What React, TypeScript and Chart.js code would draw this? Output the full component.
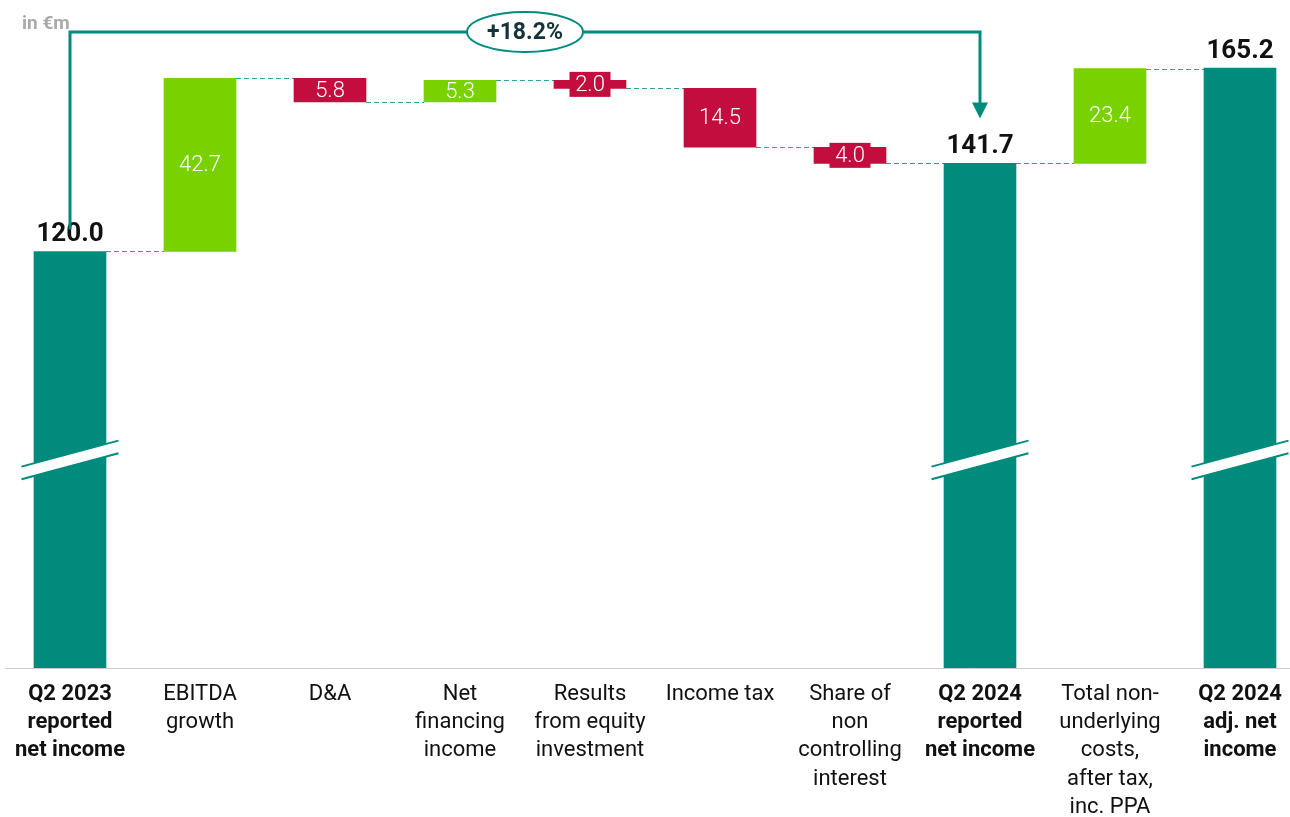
import React, { useEffect, useRef } from "react";
import { Chart, registerables } from "chart.js";

Chart.register(...registerables);

// ---- data ----
const categories: string[][] = [
  ["Q2 2023", "reported", "net income"],
  ["EBITDA", "growth"],
  ["D&A"],
  ["Net", "financing", "income"],
  ["Results", "from equity", "investment"],
  ["Income tax"],
  ["Share of", "non", "controlling", "interest"],
  ["Q2 2024", "reported", "net income"],
  ["Total non-", "underlying", "costs,", "after tax,", "inc. PPA"],
  ["Q2 2024", "adj. net", "income"],
];
const values: number[] = [120.0, 42.7, -5.8, 5.3, -2.0, -14.5, -4.0, 141.7, 23.4, 165.2];
const isTotal: boolean[] = [true, false, false, false, false, false, false, true, false, true];
const changeLabel = "+18.2%";
const unitLabel = "in €m";

// ---- styling ----
const TEAL = "#008b7d";
const GREEN = "#79d200";
const RED = "#c30d3e";
const CONNECTOR = "#2aa598";
const FONT = "Roboto";
const Y_MIN = 17.3;
const Y_MAX = 182;
const BREAK_VALUE = 68.6;

// build floating ranges from values
const ranges: number[][] = [];
const ends: number[] = [];
{
  let running = 0;
  values.forEach((v, i) => {
    if (isTotal[i]) {
      ranges.push([Y_MIN, v]);
      running = v;
    } else {
      const a = running;
      const b = running + v;
      ranges.push([Math.min(a, b), Math.max(a, b)]);
      running = b;
    }
    ends.push(running);
  });
}
const colors = values.map((v, i) => (isTotal[i] ? TEAL : v >= 0 ? GREEN : RED));

const waterfallPlugin = {
  id: "waterfallDecor",
  beforeDatasetsDraw(chart: any) {
    const ctx = chart.ctx;
    const meta = chart.getDatasetMeta(0);
    const y = chart.scales.y;
    ctx.save();
    ctx.strokeStyle = CONNECTOR;
    ctx.lineWidth = 1.2;
    ctx.setLineDash([5, 3]);
    for (let i = 0; i < values.length - 1; i++) {
      const a = meta.data[i];
      const b = meta.data[i + 1];
      const py = Math.round(y.getPixelForValue(ends[i])) + 0.5;
      ctx.beginPath();
      ctx.moveTo(a.x + a.width / 2, py);
      ctx.lineTo(b.x - b.width / 2, py);
      ctx.stroke();
    }
    ctx.restore();
  },
  afterDatasetsDraw(chart: any) {
    const ctx = chart.ctx;
    const meta = chart.getDatasetMeta(0);
    const y = chart.scales.y;
    const x = chart.scales.x;
    ctx.save();

    // axis breaks on total bars
    const yb = y.getPixelForValue(BREAK_VALUE);
    values.forEach((_, i) => {
      if (!isTotal[i]) return;
      const cx = meta.data[i].x;
      const hw = 48.5;
      const rise = 13;
      const u1 = [cx - hw, yb - 6.3 + rise];
      const u2 = [cx + hw, yb - 6.3 - rise];
      const l1 = [cx - hw, yb + 6.3 + rise];
      const l2 = [cx + hw, yb + 6.3 - rise];
      ctx.fillStyle = "#ffffff";
      ctx.beginPath();
      ctx.moveTo(u1[0], u1[1]);
      ctx.lineTo(u2[0], u2[1]);
      ctx.lineTo(l2[0], l2[1]);
      ctx.lineTo(l1[0], l1[1]);
      ctx.closePath();
      ctx.fill();
      ctx.strokeStyle = TEAL;
      ctx.lineWidth = 2;
      ctx.beginPath();
      ctx.moveTo(u1[0], u1[1]);
      ctx.lineTo(u2[0], u2[1]);
      ctx.moveTo(l1[0], l1[1]);
      ctx.lineTo(l2[0], l2[1]);
      ctx.stroke();
    });

    // value labels
    values.forEach((v, i) => {
      const el = meta.data[i];
      if (isTotal[i]) {
        ctx.fillStyle = "#111111";
        ctx.font = `bold 26px ${FONT}`;
        ctx.textAlign = "center";
        ctx.textBaseline = "alphabetic";
        ctx.fillText(v.toFixed(1), el.x, el.y - 10);
      } else {
        const top = Math.min(el.y, el.base);
        const bot = Math.max(el.y, el.base);
        const cy = (top + bot) / 2;
        if (bot - top < 20) {
          ctx.fillStyle = colors[i];
          ctx.fillRect(el.x - 20.5, cy - 12.5, 41, 25);
        }
        ctx.fillStyle = "#ffffff";
        ctx.font = `300 22px ${FONT}`;
        ctx.textAlign = "center";
        ctx.textBaseline = "middle";
        ctx.fillText(Math.abs(v).toFixed(1), el.x, cy + 1);
      }
    });

    // bracket with arrow
    const first = meta.data[0];
    const target = meta.data[7];
    const topY = 32;
    ctx.strokeStyle = TEAL;
    ctx.lineWidth = 3;
    ctx.setLineDash([]);
    ctx.beginPath();
    ctx.moveTo(first.x, first.y - 22);
    ctx.lineTo(first.x, topY);
    ctx.lineTo(target.x, topY);
    ctx.lineTo(target.x, target.y - 60);
    ctx.stroke();
    ctx.fillStyle = TEAL;
    ctx.beginPath();
    ctx.moveTo(target.x - 8, target.y - 61);
    ctx.lineTo(target.x + 8, target.y - 61);
    ctx.lineTo(target.x, target.y - 45);
    ctx.closePath();
    ctx.fill();

    // ellipse label
    const ex = x.getPixelForValue(3.5);
    ctx.fillStyle = "#ffffff";
    ctx.strokeStyle = TEAL;
    ctx.lineWidth = 2;
    ctx.beginPath();
    ctx.ellipse(ex, topY, 58, 20, 0, 0, Math.PI * 2);
    ctx.fill();
    ctx.stroke();
    ctx.fillStyle = "#17323a";
    ctx.font = `bold 23px ${FONT}`;
    ctx.textAlign = "center";
    ctx.textBaseline = "middle";
    ctx.fillText(changeLabel, ex, topY + 1);

    // unit label
    ctx.fillStyle = "#aaaaaa";
    ctx.font = `bold 19px ${FONT}`;
    ctx.textAlign = "left";
    ctx.textBaseline = "alphabetic";
    ctx.fillText(unitLabel, 22, 29);

    ctx.restore();
  },
};

export default function App() {
  const ref = useRef<HTMLCanvasElement | null>(null);
  useEffect(() => {
    if (!ref.current) return;
    const chart = new Chart(ref.current, {
      type: "bar",
      data: {
        datasets: [
          {
            data: ranges.map((r, i) => ({ x: i, y: r })) as any,
            backgroundColor: colors,
            borderWidth: 0,
            barThickness: 72,
          },
        ],
      },
      options: {
        responsive: false,
        animation: false,
        maintainAspectRatio: false,
        layout: { padding: { left: 5, right: 0, top: 0, bottom: 0 } },
        plugins: { legend: { display: false }, tooltip: { enabled: false } },
        scales: {
          x: {
            type: "linear",
            min: -0.5,
            max: (1290 - 5) / 130 - 0.5,
            offset: false,
            grid: { display: false, drawTicks: false },
            border: { display: true, color: "#cccccc", width: 1 },
            afterBuildTicks: (s: any) => {
              s.ticks = categories.map((_, i) => ({ value: i }));
            },
            afterFit: (s: any) => {
              s.height = 149;
              s.paddingLeft = 0;
              s.paddingRight = 0;
            },
            ticks: {
              autoSkip: false,
              maxRotation: 0,
              minRotation: 0,
              padding: 12,
              color: "#111111",
              font: (c: any) => ({
                family: FONT,
                size: 22,
                weight: isTotal[c.index] ? "bold" : "normal",
                lineHeight: 1.29,
              }),
              callback: (_v: any, i: number) => categories[i],
            },
          },
          y: { display: false, min: Y_MIN, max: Y_MAX },
        },
      },
      plugins: [waterfallPlugin],
    });
    return () => chart.destroy();
  }, []);
  return (
    <div style={{ position: "absolute", left: 0, top: 0, width: 1290, height: 817 }}>
      <canvas ref={ref} width={1290} height={817} style={{ width: 1290, height: 817 }} />
    </div>
  );
}
